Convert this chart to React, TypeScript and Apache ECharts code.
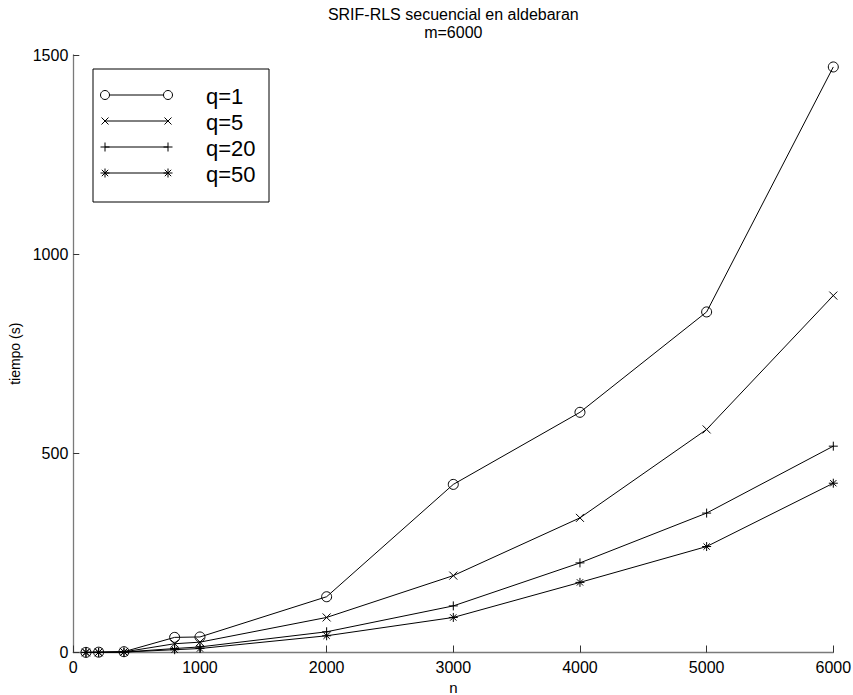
import React, { useEffect, useRef } from "react";
import * as echarts from "echarts";

const nValues = [100, 200, 400, 800, 1000, 2000, 3000, 4000, 5000, 6000];
const q1 = [0.3, 0.8, 2, 38, 39, 140, 422, 603, 855, 1470];
const q5 = [0.2, 0.5, 1.5, 22, 26, 88, 193, 338, 560, 896];
const q20 = [0.1, 0.3, 1, 10, 14, 52, 117, 225, 350, 518];
const q50 = [0.1, 0.3, 1, 7, 10, 42, 88, 176, 266, 425];

const seriesNames = ["q=1", "q=5", "q=20", "q=50"];
const seriesData = [q1, q5, q20, q50];
const markerKinds = ["circle", "x", "plus", "star"];

const titleLines = ["SRIF-RLS secuencial en aldebaran", "m=6000"];
const xName = "n";
const yName = "tiempo (s)";
const xTicks = { min: 0, max: 6000, interval: 1000 };
const yTicks = { min: 0, max: 1500, interval: 500 };

const FONT = "'Liberation Sans', Arial, Helvetica, sans-serif";

const symbolFor: Record<string, string> = {
  circle: "circle",
  x: "path://M0,0L8,8M8,0L0,8",
  plus: "path://M4,0L4,8M0,4L8,4",
  star: "path://M4,0L4,8M0,4L8,4M1.2,1.2L6.8,6.8M6.8,1.2L1.2,6.8",
};
const symbolSizeFor: Record<string, number> = { circle: 10, x: 8, plus: 9, star: 9 };

function markerGraphic(kind: string, cx: number, cy: number): any[] {
  const st = { stroke: "#000", lineWidth: 1, fill: "none" };
  const seg = (x1: number, y1: number, x2: number, y2: number) => ({
    type: "line",
    shape: { x1: cx + x1, y1: cy + y1, x2: cx + x2, y2: cy + y2 },
    style: st,
    z: 101,
  });
  if (kind === "circle") {
    return [{ type: "circle", shape: { cx, cy, r: 4.5 }, style: { stroke: "#000", lineWidth: 1, fill: "#fff" }, z: 102 }];
  }
  if (kind === "x") return [seg(-3.5, -3.5, 3.5, 3.5), seg(3.5, -3.5, -3.5, 3.5)];
  if (kind === "plus") return [seg(0, -4.5, 0, 4.5), seg(-4.5, 0, 4.5, 0)];
  return [
    seg(0, -4.5, 0, 4.5),
    seg(-4.5, 0, 4.5, 0),
    seg(-3.2, -3.2, 3.2, 3.2),
    seg(3.2, -3.2, -3.2, 3.2),
  ];
}

export default function App() {
  const ref = useRef<HTMLDivElement>(null);
  useEffect(() => {
    if (!ref.current) return;
    const chart = echarts.init(ref.current, null, { renderer: "svg" });

    const legendBox = { x: 93, y: 69, w: 176, h: 133 };
    const rowYs = [95, 121, 147, 173];
    const lineX1 = 105;
    const lineX2 = 168;
    const textX = 206;

    const legendEls: any[] = [
      {
        type: "rect",
        shape: { x: legendBox.x, y: legendBox.y, width: legendBox.w, height: legendBox.h },
        style: { fill: "#fff", stroke: "#000", lineWidth: 1 },
        z: 99,
      },
    ];
    seriesNames.forEach((name, i) => {
      const y = rowYs[i];
      legendEls.push({
        type: "line",
        shape: { x1: lineX1, y1: y, x2: lineX2, y2: y },
        style: { stroke: "#000", lineWidth: 1 },
        z: 100,
      });
      legendEls.push(...markerGraphic(markerKinds[i], lineX1, y));
      legendEls.push(...markerGraphic(markerKinds[i], lineX2, y));
      legendEls.push({
        type: "text",
        x: textX,
        y: y + 1,
        style: {
          text: name,
          fill: "#000",
          font: `22px ${FONT}`,
          align: "left",
          verticalAlign: "middle",
        },
        z: 100,
      });
    });

    const plain = (v: number) => String(v);

    const option: any = {
      animation: false,
      backgroundColor: "#fff",
      grid: {
        left: 73.3,
        right: 19.7,
        top: 55,
        bottom: 42.5,
        containLabel: false,
        outerBoundsMode: "none",
      },
      xAxis: {
        type: "value",
        min: xTicks.min,
        max: xTicks.max,
        interval: xTicks.interval,
        name: xName,
        nameLocation: "middle",
        nameGap: 23,
        nameTextStyle: { color: "#000", fontSize: 15, fontFamily: FONT },
        axisLine: { show: true, lineStyle: { color: "#7a7a7a", width: 1.3 } },
        axisTick: { show: true, inside: true, length: 7, lineStyle: { color: "#333", width: 1 } },
        axisLabel: { color: "#000", fontSize: 16, fontFamily: FONT, margin: 7, formatter: plain },
        splitLine: { show: false },
      },
      yAxis: {
        type: "value",
        min: yTicks.min,
        max: yTicks.max,
        interval: yTicks.interval,
        name: yName,
        nameLocation: "middle",
        nameGap: 43,
        nameTextStyle: { color: "#000", fontSize: 14, fontFamily: FONT },
        axisLine: { show: true, lineStyle: { color: "#7a7a7a", width: 1.3 } },
        axisTick: { show: true, inside: true, length: 6, lineStyle: { color: "#333", width: 1 } },
        axisLabel: { color: "#000", fontSize: 16, fontFamily: FONT, margin: 5, formatter: plain },
        splitLine: { show: false },
      },
      series: seriesNames.map((name, i) => ({
        name,
        type: "line",
        data: nValues.map((n, j) => [n, seriesData[i][j]]),
        symbol: symbolFor[markerKinds[i]],
        symbolSize: symbolSizeFor[markerKinds[i]],
        showSymbol: true,
        showAllSymbol: true,
        lineStyle: { color: "#000", width: 1 },
        itemStyle: { color: "transparent", borderColor: "#000", borderWidth: 1 },
        emphasis: { disabled: true },
        z: 2 + i,
      })),
      graphic: [
        {
          type: "text",
          x: 453.3,
          y: 5,
          style: {
            text: titleLines.join("\n"),
            fill: "#000",
            font: `16px ${FONT}`,
            lineHeight: 18,
            align: "center",
            verticalAlign: "top",
          },
        },
        ...legendEls,
      ],
    };
    chart.setOption(option);
    return () => chart.dispose();
  }, []);
  return (
    <div
      ref={ref}
      style={{ position: "absolute", left: 0, top: 0, width: 853, height: 695, background: "#fff" }}
    />
  );
}
